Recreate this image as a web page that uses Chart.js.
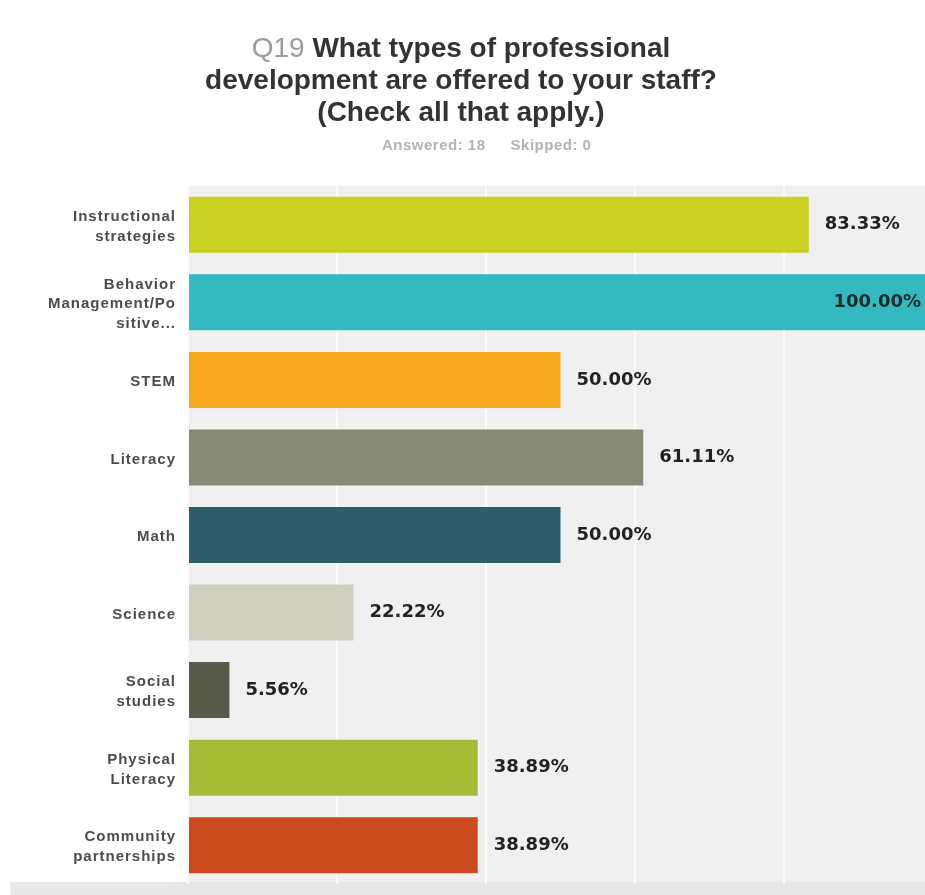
<!DOCTYPE html>
<html>
<head>
<meta charset="utf-8">
<script src="https://cdn.jsdelivr.net/npm/chart.js@4/dist/chart.umd.min.js"></script>
<style>
  html, body { margin: 0; padding: 0; background: #ffffff; overflow: hidden; }
  body { width: 925px; height: 895px; position: relative; }
  #wrap { position: absolute; left: 0; top: 0; width: 935px; height: 895px; }
  #title {
    position: absolute; left: 0; top: 32px; width: 922px; text-align: center;
    font-family: "Liberation Sans", Arial, sans-serif; font-weight: bold;
    font-size: 28px; line-height: 32px; color: #333333;
  }
  #title .qn { color: #9c9c9c; font-weight: normal; }
  #sub {
    position: absolute; left: 382px; top: 136px; white-space: nowrap;
    font-family: "Liberation Sans", Arial, sans-serif; font-size: 15px; font-weight: bold;
    color: #b3b3b3; letter-spacing: 0.5px; line-height: 17px;
  }
  #sub span + span { margin-left: 25px; }
</style>
</head>
<body>
<div id="wrap"><canvas id="chart" width="935" height="895"></canvas></div>
<div id="title"><span class="qn">Q19</span> What types of professional<br>development are offered to your staff?<br>(Check all that apply.)</div>
<div id="sub"><span>Answered: 18</span><span>Skipped: 0</span></div>
<script>
// Answer choices (multi-line labels as drawn on the axis)
const categories = [
  ["Instructional", "strategies"],
  ["Behavior", "Management/Po", "sitive..."],
  ["STEM"],
  ["Literacy"],
  ["Math"],
  ["Science"],
  ["Social", "studies"],
  ["Physical", "Literacy"],
  ["Community", "partnerships"]
];

// Percentage of respondents choosing each option
const responsePercents = [83.33, 100.00, 50.00, 61.11, 50.00, 22.22, 5.56, 38.89, 38.89];

// Bar fill per answer choice
const barColors = [
  "#c9d223", "#33b9bf", "#f6a91f", "#878a77", "#2d5d6a",
  "#d1d0c0", "#595a49", "#a7bc36", "#cc4a1d"
];

// Gridline positions on the percentage axis
const gridTicks = [0, 20, 40, 60, 80, 100];

const VISIBLE_RIGHT = 925;
const FOOTER_TOP = 882;

const backgroundPlugin = {
  id: "plotBackground",
  beforeDraw(chart) {
    const { ctx, chartArea: a } = chart;
    ctx.save();
    ctx.fillStyle = "#f0f0f0";
    ctx.fillRect(a.left, a.top, a.right - a.left, a.bottom - a.top);
    ctx.fillStyle = "#e7e7e7";
    ctx.fillRect(10, FOOTER_TOP, chart.width - 10, chart.height - FOOTER_TOP);
    ctx.restore();
    // category labels are drawn slightly tracked
    ctx.letterSpacing = "1px";
  },
  beforeDatasetsDraw(chart) {
    chart.ctx.letterSpacing = "0px";
  }
};

const valueLabelPlugin = {
  id: "valueLabels",
  afterDatasetsDraw(chart) {
    const { ctx } = chart;
    const meta = chart.getDatasetMeta(0);
    ctx.save();
    ctx.font = "bold 18px 'DejaVu Sans', Verdana, sans-serif";
    ctx.textBaseline = "middle";
    meta.data.forEach((bar, i) => {
      const text = responsePercents[i].toFixed(2) + "%";
      const w = ctx.measureText(text).width;
      const outsideX = bar.x + 16;
      if (outsideX + w > VISIBLE_RIGHT) {
        ctx.fillStyle = "#142c2e";
        ctx.textAlign = "right";
        ctx.fillText(text, Math.min(bar.x, VISIBLE_RIGHT) - 4, bar.y);
      } else {
        ctx.fillStyle = "#222222";
        ctx.textAlign = "left";
        ctx.fillText(text, outsideX, bar.y);
      }
    });
    ctx.restore();
  }
};

new Chart(document.getElementById("chart"), {
  type: "bar",
  data: {
    labels: categories,
    datasets: [{
      data: responsePercents,
      backgroundColor: barColors,
      borderWidth: 0,
      categoryPercentage: 1,
      barPercentage: 0.722
    }]
  },
  options: {
    indexAxis: "y",
    responsive: false,
    animation: false,
    devicePixelRatio: 1,
    layout: { padding: { top: 186, right: 2, bottom: 0, left: 0 } },
    plugins: {
      legend: { display: false },
      tooltip: { enabled: false },
      title: { display: false }
    },
    scales: {
      x: {
        min: 0,
        max: 100,
        position: "bottom",
        border: { display: false },
        grid: { color: "#fbfbfb", lineWidth: 2, drawTicks: false },
        ticks: { display: false },
        afterBuildTicks(scale) { scale.ticks = gridTicks.map(v => ({ value: v })); },
        afterFit(scale) { scale.height = 11; }
      },
      y: {
        border: { display: false },
        grid: { display: false, drawTicks: false },
        ticks: {
          color: "#4c4c4c",
          padding: 12,
          labelOffset: 2,
          font: { family: "'Liberation Sans', Arial, sans-serif", weight: "bold", size: 15, lineHeight: 1.33 }
        },
        afterFit(scale) {
          scale.width = 188;
          scale.paddingTop = 0;
          scale.paddingBottom = 0;
        }
      }
    }
  },
  plugins: [backgroundPlugin, valueLabelPlugin]
});
</script>
</body>
</html>
